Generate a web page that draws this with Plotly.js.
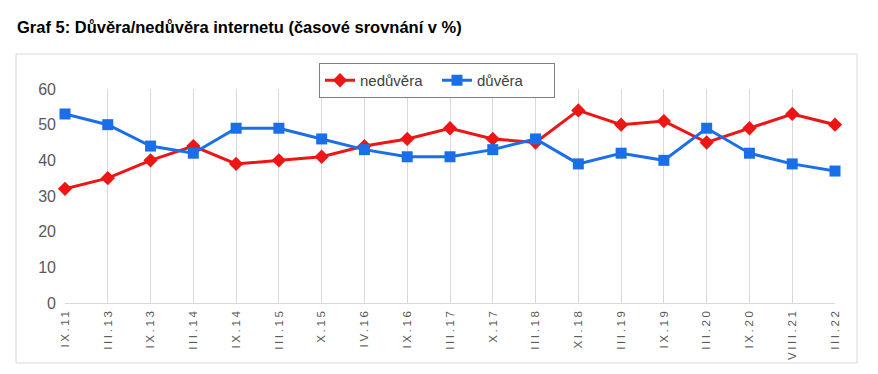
<!DOCTYPE html>
<html>
<head>
<meta charset="utf-8">
<script src="https://cdn.plot.ly/plotly-3.0.1.min.js"></script>
<style>
html,body{margin:0;padding:0;background:#fff;}
#chart{width:878px;height:374px;}
.xtick text{letter-spacing:2.6px;}
</style>
</head>
<body>
<div id="chart"></div>
<script>
var categories = ["IX.11","III.13","IX.13","III.14","IX.14","III.15","X.15","IV.16","IX.16","III.17","X.17","III.18","XI.18","III.19","IX.19","III.20","IX.20","VIII.21","III.22"];
var neduvera = [32,35,40,44,39,40,41,44,46,49,46,45,54,50,51,45,49,53,50];
var duvera   = [53,50,44,42,49,49,46,43,41,41,43,46,39,42,40,49,42,39,37];
var yTicks = [0,10,20,30,40,50,60];

var idx = categories.map(function(_, i){ return i; });

var traces = [
  {
    x: idx, y: neduvera, name: "nedůvěra", type: "scatter", mode: "lines+markers",
    line: {color: "#ee1515", width: 3},
    marker: {symbol: "diamond", size: 11, color: "#ee1515"},
    cliponaxis: false
  },
  {
    x: idx, y: duvera, name: "důvěra", type: "scatter", mode: "lines+markers",
    line: {color: "#1a6fe8", width: 3},
    marker: {symbol: "square", size: 11, color: "#1a6fe8"},
    cliponaxis: false
  }
];

var layout = {
  width: 878, height: 374,
  margin: {l: 65, r: 43, t: 89, b: 71},
  paper_bgcolor: "#fff", plot_bgcolor: "#fff",
  font: {family: "Liberation Sans, Arial, sans-serif", color: "#595959"},
  title: {
    text: "<b>Graf 5: Důvěra/nedůvěra internetu (časové srovnání v %)</b>",
    font: {family: "Liberation Sans, Arial, sans-serif", size: 16.5, color: "#000"},
    xref: "container", x: 17/878, xanchor: "left",
    yref: "container", y: 1 - 27/374, yanchor: "middle"
  },
  xaxis: {
    range: [0, 18],
    tickmode: "array", tickvals: idx, ticktext: categories,
    tickangle: -90,
    tickfont: {size: 11.5, color: "#595959"},
    showgrid: true, gridcolor: "#d9d9d9", gridwidth: 1,
    showline: true, linecolor: "#d9d9d9", linewidth: 1,
    ticks: "", zeroline: false, fixedrange: true
  },
  yaxis: {
    range: [0, 60],
    tickmode: "array", tickvals: yTicks,
    tickfont: {size: 16, color: "#595959"},
    showgrid: false, zeroline: false, showline: false, ticks: "",
    ticklabelstandoff: 8, fixedrange: true
  },
  showlegend: true,
  legend: {
    orientation: "h",
    x: (437-65)/770, xanchor: "center",
    y: (303-63)/214, yanchor: "top",
    bordercolor: "#7f7f7f", borderwidth: 1,
    bgcolor: "#fff",
    font: {size: 15, color: "#404040"},
    entrywidth: 72, entrywidthmode: "pixels",
    tracegroupgap: 0
  },
  shapes: [{
    type: "rect", xref: "paper", yref: "paper",
    x0: (16-65)/770, x1: (857-65)/770,
    y0: (303-363)/214, y1: (303-54)/214,
    line: {color: "#d9d9d9", width: 1}, fillcolor: "rgba(0,0,0,0)", layer: "below"
  }]
};

Plotly.newPlot("chart", traces, layout, {displayModeBar: false, staticPlot: true});
</script>
</body>
</html>
